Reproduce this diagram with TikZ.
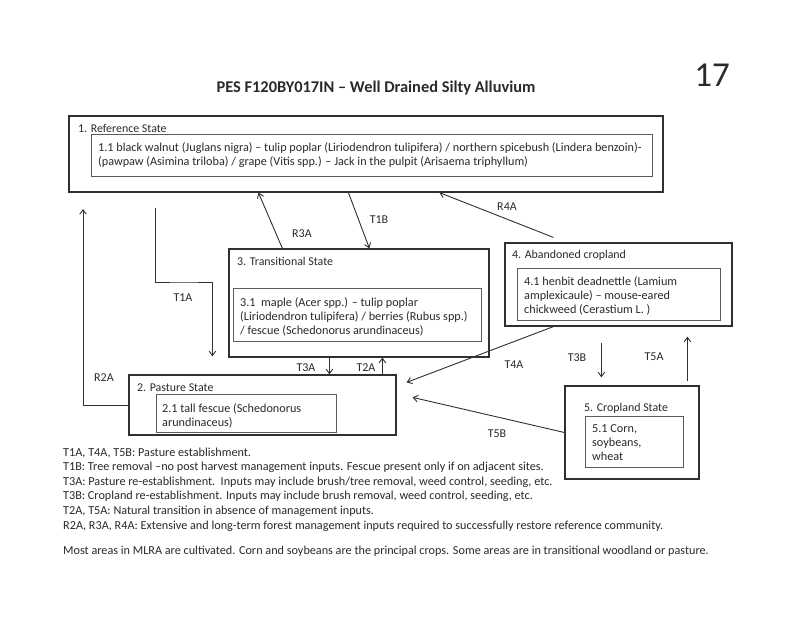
\documentclass[tikz,border=0pt]{standalone}
\usepackage{fontspec}
\setmainfont{Carlito}
\usetikzlibrary{arrows.meta,calc}
\definecolor{ink}{HTML}{2A2A2A}
\definecolor{boxline}{HTML}{303030}
\definecolor{innerline}{HTML}{5C5C5C}
\begin{document}
\begin{tikzpicture}[x=1pt,y=-1pt,
  outerbox/.style={draw=boxline, line width=1.2pt, inner sep=0pt},
  innerbox/.style={draw=innerline, line width=0.8pt, inner sep=0pt},
  statelabel/.style={anchor=west, inner sep=0pt, text=ink, font=\fontsize{11.9}{14}\selectfont},
  bodytext/.style={anchor=west, align=left, inner sep=0pt, yshift=-1.5pt, text=ink, font=\fontsize{12.2}{14}\selectfont},
  lab/.style={inner sep=0pt, text=ink, font=\fontsize{12}{14}\selectfont},
  conn/.style={draw=boxline, line width=0.9pt, -{Straight Barb[length=4.5pt,width=6.5pt]}}]
\useasboundingbox[fill=white] (0,0) rectangle (800,617);

% title and page number
\node[inner sep=0pt, text=ink, font=\bfseries\fontsize{16.4}{18}\selectfont] (title) at (376,88) {PES F120BY017IN – Well Drained Silty Alluvium};
\node[inner sep=0pt, text=ink, font=\fontsize{35}{40}\selectfont] (pagenum) at (712,75) {17};

% 1. Reference State
\node[outerbox, minimum width=594pt, minimum height=76pt] (b1) at (366,154) {};
\node[innerbox, minimum width=561pt, minimum height=42pt] (i1) at (371.5,155.5) {};
\node[statelabel] (l1) at (78,128) {1. Reference State};
\node[bodytext] (t1) at (98,153.5) {1.1 black walnut (Juglans nigra) – tulip poplar (Liriodendron tulipifera) / northern spicebush (Lindera benzoin)-\\(pawpaw (Asimina triloba) / grape (Vitis spp.) – Jack in the pulpit (Arisaema triphyllum)};

% 3. Transitional State
\node[outerbox, minimum width=260pt, minimum height=108pt] (b3) at (359,303) {};
\node[innerbox, minimum width=248pt, minimum height=53pt] (i3) at (357,314.5) {};
\node[statelabel] (l3) at (237,261) {3. Transitional State};
\node[bodytext] (t3) at (240,315) {3.1\ \ maple (Acer spp.) – tulip poplar\\(Liriodendron tulipifera) / berries (Rubus spp.)\\/ fescue (Schedonorus arundinaceus)};

% 4. Abandoned cropland
\node[outerbox, minimum width=227pt, minimum height=83pt] (b4) at (618.5,284.5) {};
\node[innerbox, minimum width=203pt, minimum height=52pt] (i4) at (618.5,294) {};
\node[statelabel] (l4) at (512,255) {4. Abandoned cropland};
\node[bodytext] (t4) at (524,294.5) {4.1 henbit deadnettle (Lamium\\amplexicaule) – mouse-eared\\chickweed (Cerastium L. )};

% 2. Pasture State
\node[outerbox, minimum width=267pt, minimum height=60pt] (b2) at (262.5,405) {};
\node[innerbox, minimum width=180pt, minimum height=38pt] (i2) at (246,413) {};
\node[statelabel] (l2) at (137,388) {2. Pasture State};
\node[bodytext] (t2) at (162,414) {2.1 tall fescue (Schedonorus\\arundinaceus)};

% 5. Cropland State
\node[outerbox, minimum width=134pt, minimum height=93pt] (b5) at (632,432.5) {};
\node[innerbox, minimum width=98pt, minimum height=51pt] (i5) at (634,441.5) {};
\node[statelabel] (l5) at (584,408) {5. Cropland State};
\node[bodytext] (t5) at (592,441.5) {5.1 Corn,\\soybeans,\\wheat};

% connectors
\coordinate (r2top) at (83,209);
\draw[conn] (b2.west) -| (r2top);
\coordinate (t1a0) at ([xshift=87pt,yshift=-15pt]b1.south west);
\coordinate (t1a1) at ([xshift=84pt,yshift=18pt]b2.north west);
\draw[conn] (t1a0) |- ($(t1a0)!.5!(t1a1)$) -| (t1a1);
\draw[conn] ([xshift=54pt]b3.north west) -- ([xshift=190pt]b1.south west);
\draw[conn] ([xshift=280pt]b1.south west) -- ([xshift=141pt]b3.north west);
\draw[conn] ([xshift=49pt,yshift=5pt]b4.north west) -- ([xshift=371pt]b1.south west);
\draw[conn] ([xshift=101pt]b3.south west) -- ([xshift=201pt]b2.north west);
\draw[conn] ([xshift=254pt]b2.north west) -- ([xshift=154pt]b3.south west);
\draw[conn] ([xshift=49pt]b4.south west) -- ([xshift=10pt,yshift=-8pt]b2.north east);
\draw[conn] (b5.west) -- ([xshift=16pt,yshift=-23pt]b2.north east);
\draw[conn] ([xshift=97pt,yshift=-16pt]b4.south west) -- ([xshift=37pt,yshift=8pt]b5.north west);
\draw[conn] ([xshift=123pt,yshift=4pt]b5.north west) -- ([xshift=183pt,yshift=-10pt]b4.south west);

% connector labels
\node[lab] (lR2A) at (104,378) {R2A};
\node[lab] (lT1A) at (183,298) {T1A};
\node[lab] (lR3A) at (302,234) {R3A};
\node[lab] (lT1B) at (379,220) {T1B};
\node[lab] (lR4A) at (507,207) {R4A};
\node[lab] (lT3A) at (306,368) {T3A};
\node[lab] (lT2A) at (366,368) {T2A};
\node[lab] (lT4A) at (514,365) {T4A};
\node[lab] (lT3B) at (577,358) {T3B};
\node[lab] (lT5A) at (654,357) {T5A};
\node[lab] (lT5B) at (497,434) {T5B};

% legend
\node[anchor=west, align=left, inner sep=0pt, text=ink, font=\fontsize{12.2}{14.6}\selectfont] (legend) at (63,489.5) {T1A, T4A, T5B: Pasture establishment.\\T1B: Tree removal –no post harvest management inputs. Fescue present only if on adjacent sites.\\T3A: Pasture re-establishment.\ \ Inputs may include brush/tree removal, weed control, seeding, etc.\\T3B: Cropland re-establishment. Inputs may include brush removal, weed control, seeding, etc.\\T2A, T5A: Natural transition in absence of management inputs.\\R2A, R3A, R4A: Extensive and long-term forest management inputs required to successfully restore reference community.};
\node[anchor=west, inner sep=0pt, text=ink, font=\fontsize{12.2}{14.6}\selectfont] (note) at (63,551) {Most areas in MLRA are cultivated. Corn and soybeans are the principal crops. Some areas are in transitional woodland or pasture.};
\end{tikzpicture}
\end{document}
